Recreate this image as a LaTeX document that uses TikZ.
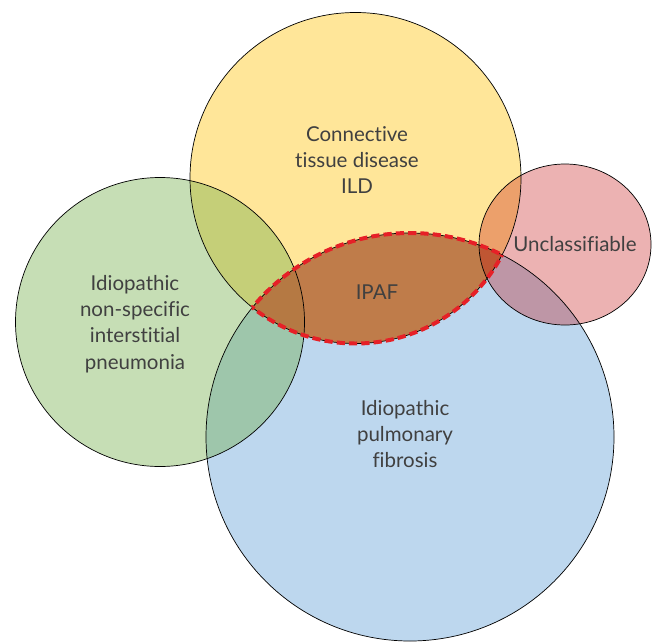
\documentclass[tikz,border=0pt]{standalone}
\usepackage{fontspec}
\setmainfont{Lato}[Ligatures=NoCommon]
\usepackage{tikz}

\definecolor{ctdYellow}{HTML}{FFC000}
\definecolor{nsipGreen}{HTML}{70AD47}
\definecolor{ipfBlue}{HTML}{5B9BD5}
\definecolor{unclRed}{HTML}{C00000}
\definecolor{ipafBrown}{HTML}{B86134}
\definecolor{ipafRed}{HTML}{E62027}

\begin{document}
\begin{tikzpicture}[
    x=0.03cm, y=-0.03cm,
    setfill/.style={fill opacity=0.4},
    setline/.style={draw=black, line width=0.6pt},
    ipafEdge/.style={draw=ipafRed, dash pattern=on 7pt off 3.5pt, line width=3.4pt},
    setname/.style={
        text=black!75,
        align=center,
        font=\fontsize{17.5}{22.5}\selectfont
        }
        ]
    \useasboundingbox (0, 0) rectangle (657, 643);

    % centres of the sets
    \coordinate (ipfc) at (410, 437);
    \coordinate (ctdc) at (355.5, 178);
    \coordinate (nsipc) at (160, 322);
    \coordinate (unclc) at (565, 244.5);

    \fill[ipfBlue, setfill] (ipfc) circle [radius=204];
    \fill[ctdYellow, setfill] (ctdc) circle [radius=165.5];
    \fill[nsipGreen, setfill] (nsipc) circle [radius=144.5];

    % IPAF = CTD-ILD and IPF overlap
    \begin{scope}
        \clip (ctdc) circle [radius=165.5];
        \fill[ipafBrown, fill opacity=0.75] (ipfc) circle [radius=204];
    \end{scope}

    \fill[unclRed, fill opacity=0.3] (unclc) ellipse [x radius=86, y radius=80.5];

    \draw[setline] (ipfc) circle [radius=204];
    \draw[setline] (ctdc) circle [radius=165.5];
    \draw[setline] (nsipc) circle [radius=144.5];
    \draw[setline] (unclc) ellipse [x radius=86, y radius=80.5];

    \begin{scope}
        \clip (ctdc) circle [radius=165.5];
        \draw[ipafEdge] (ipfc) circle [radius=204];
    \end{scope}
    \begin{scope}
        \clip (ipfc) circle [radius=204];
        \draw[ipafEdge] (ctdc) circle [radius=165.5];
    \end{scope}

    \node[setname] (ctd) at (357, 160) {Connective\\tissue disease\\ILD};
    \node[setname] (nsip) at (135, 324) {Idiopathic\\non-specific\\interstitial\\pneumonia};
    \node[setname] (ipf) at (405, 434) {Idiopathic\\pulmonary\\fibrosis};
    \node[setname] (uncl) at (575, 244) {Unclassifiable};
    \node[setname] (ipaf) at (377, 292) {IPAF};
\end{tikzpicture}
\end{document}
